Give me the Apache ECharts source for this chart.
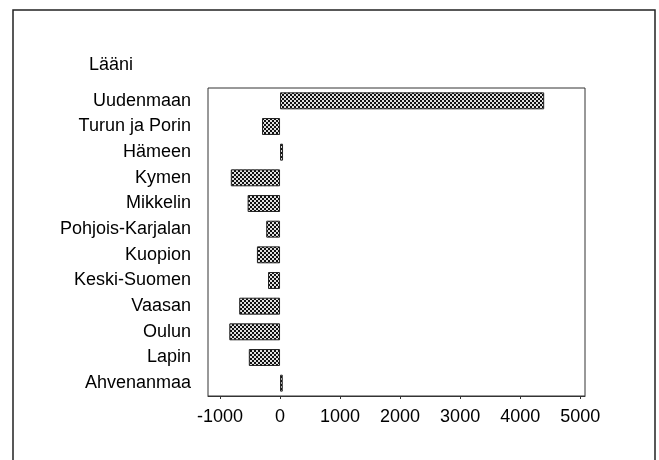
<!DOCTYPE html>
<html>

<head>
    <meta charset="utf-8">
    <title>Lääni</title>
    <script src="https://cdn.jsdelivr.net/npm/echarts@6/dist/echarts.min.js"></script>
    <style>
        body { margin: 0; background: #fff; }
    </style>
</head>

<body>
    <div id="main" style="width: 659px;height:460px;"></div>
    <script type="text/javascript">
    // läänit ylhäältä alas
    var laanit = ['Uudenmaan', 'Turun ja Porin', 'Hämeen', 'Kymen', 'Mikkelin', 'Pohjois-Karjalan',
        'Kuopion', 'Keski-Suomen', 'Vaasan', 'Oulun', 'Lapin', 'Ahvenanmaa'];
    var muutos = [4400, -300, 50, -820, -540, -230, -385, -200, -680, -845, -520, 45];
    var xTicks = [-1000, 0, 1000, 2000, 3000, 4000, 5000];

    // rasterikuvio pylväille
    var pat = document.createElement('canvas');
    pat.width = 4;
    pat.height = 4;
    var ctx = pat.getContext('2d');
    ctx.fillStyle = '#e0e0e0';
    ctx.fillRect(0, 0, 4, 4);
    ctx.fillStyle = '#111';
    ctx.fillRect(0, 0, 2, 2);
    ctx.fillRect(2, 2, 2, 2);

    var myChart = echarts.init(document.getElementById('main'));

    var font = '"Liberation Sans", Arial, sans-serif';

    var option = {
        animation: false,
        title: {
            text: 'Lääni',
            left: 84,
            top: 51,
            textStyle: { fontFamily: font, fontSize: 18, fontWeight: 'normal', color: '#000' }
        },
        graphic: [{
            type: 'rect',
            shape: { x: 13, y: 10, width: 642, height: 470 },
            style: { fill: 'none', stroke: '#222', lineWidth: 1.5 },
            silent: true
        }],
        grid: {
            left: 208,
            top: 88,
            width: 377,
            height: 308,
            show: true,
            borderColor: '#333',
            borderWidth: 1
        },
        xAxis: {
            type: 'value',
            min: -1200,
            max: 5080,
            splitLine: { show: false },
            axisLine: { show: true, onZero: false, lineStyle: { color: '#333' } },
            axisTick: { show: true, length: 3, customValues: xTicks, lineStyle: { color: '#333' } },
            axisLabel: {
                customValues: xTicks,
                formatter: function (v) { return String(v); },
                margin: 12,
                fontFamily: font,
                fontSize: 18,
                color: '#000'
            }
        },
        yAxis: {
            type: 'category',
            inverse: true,
            data: laanit,
            axisLine: { show: false },
            axisTick: { show: false },
            axisLabel: {
                margin: 17,
                fontFamily: font,
                fontSize: 18,
                color: '#000'
            }
        },
        series: [{
            type: 'bar',
            data: muutos,
            barWidth: '66%',
            itemStyle: {
                color: { image: pat, repeat: 'repeat' },
                borderColor: '#222',
                borderWidth: 1
            }
        }]
    };

    myChart.setOption(option);
    </script>
</body>

</html>
